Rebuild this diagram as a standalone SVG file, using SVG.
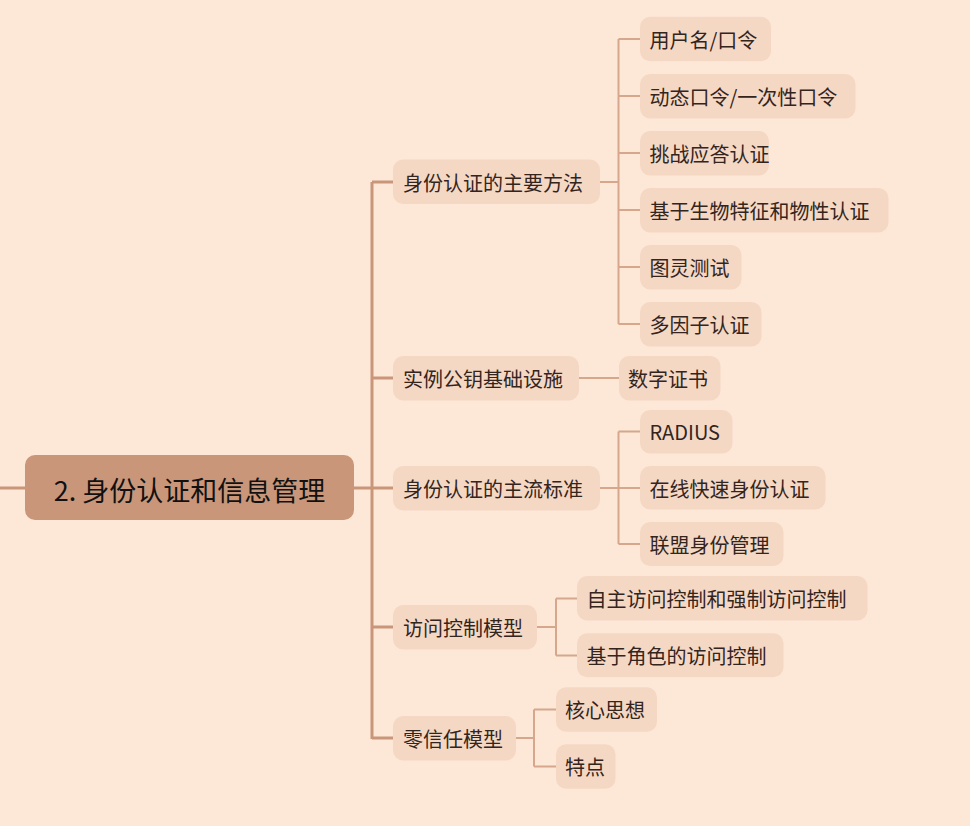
<svg xmlns="http://www.w3.org/2000/svg" width="970" height="826" viewBox="0 0 970 826">
<style>
.bg{fill:#FDE8D8}
.root{fill:#C9967A}
.n{fill:#F5D8C4}
.t{font-family:"Noto Sans CJK SC","Noto Sans",sans-serif;font-size:20px;fill:#33251d;dominant-baseline:central}
.rt{font-family:"Noto Sans CJK SC","Noto Sans",sans-serif;font-size:27px;fill:#111;dominant-baseline:central;text-anchor:middle}
.l1{fill:none;stroke:#C9967A;stroke-width:3}
.l2{fill:none;stroke:#D6A78D;stroke-width:2}
</style>
<rect class="bg" x="0" y="0" width="970" height="826"/>
<g id="connectors">
<path class="l1" d="M0,488H25M354,488H372M372,182V739M372,182H393M372,378H393M372,488H393M372,627H393M372,738H393"/>
<path class="l2" d="M600,182H618.5M618.5,39V324M618.5,39H640M618.5,96H640M618.5,153H640M618.5,210H640M618.5,267H640M618.5,324H640"/>
<path class="l2" d="M579,378H619"/>
<path class="l2" d="M600,488H618.5M618.5,431.5V544M618.5,431.5H640M618.5,488H640M618.5,544H640"/>
<path class="l2" d="M537,627H556M556,598.5V655.5M556,598.5H577M556,655.5H577"/>
<path class="l2" d="M516,738H534M534,709.5V766.5M534,709.5H556M534,766.5H556"/>
</g>
<g id="root"><rect class="root" x="25" y="455" width="329" height="65" rx="10"/><text class="rt" x="189.5" y="489">2. 身份认证和信息管理</text></g>
<g id="n1"><rect class="n" x="393" y="159.5" width="207" height="44.5" rx="10"/><text class="t" x="403" y="182">身份认证的主要方法</text></g>
<g id="n1a"><rect class="n" x="640" y="16.7" width="131" height="44.5" rx="10"/><text class="t" x="649.5" y="39">用户名/口令</text></g>
<g id="n1b"><rect class="n" x="640" y="74" width="215.5" height="44.5" rx="10"/><text class="t" x="649.5" y="96">动态口令/一次性口令</text></g>
<g id="n1c"><rect class="n" x="640" y="131" width="129" height="44.5" rx="10"/><text class="t" x="649.5" y="153">挑战应答认证</text></g>
<g id="n1d"><rect class="n" x="640" y="188" width="248.5" height="44.5" rx="10"/><text class="t" x="649.5" y="210">基于生物特征和物性认证</text></g>
<g id="n1e"><rect class="n" x="640" y="245" width="101.5" height="44.5" rx="10"/><text class="t" x="649.5" y="267">图灵测试</text></g>
<g id="n1f"><rect class="n" x="640" y="302" width="121.5" height="44.5" rx="10"/><text class="t" x="649.5" y="324">多因子认证</text></g>
<g id="n2"><rect class="n" x="393" y="356" width="186" height="44.5" rx="10"/><text class="t" x="403" y="378">实例公钥基础设施</text></g>
<g id="n2a"><rect class="n" x="619" y="356" width="101.5" height="44.5" rx="10"/><text class="t" x="628" y="378">数字证书</text></g>
<g id="n3"><rect class="n" x="393" y="466" width="207" height="44.5" rx="10"/><text class="t" x="403" y="488">身份认证的主流标准</text></g>
<g id="n3a"><rect class="n" x="640" y="410" width="92.5" height="43.5" rx="10"/><text class="t" x="649.5" y="431.5">RADIUS</text></g>
<g id="n3b"><rect class="n" x="640" y="466" width="185.5" height="43.5" rx="10"/><text class="t" x="649.5" y="488">在线快速身份认证</text></g>
<g id="n3c"><rect class="n" x="640" y="522" width="143.5" height="44" rx="10"/><text class="t" x="649.5" y="544">联盟身份管理</text></g>
<g id="n4"><rect class="n" x="393" y="605" width="144" height="44.5" rx="10"/><text class="t" x="403" y="627">访问控制模型</text></g>
<g id="n4a"><rect class="n" x="577" y="576" width="290.5" height="44.5" rx="10"/><text class="t" x="586.5" y="598.5">自主访问控制和强制访问控制</text></g>
<g id="n4b"><rect class="n" x="577" y="633.3" width="206.5" height="44" rx="10"/><text class="t" x="586.5" y="655.5">基于角色的访问控制</text></g>
<g id="n5"><rect class="n" x="393" y="716" width="123" height="44.5" rx="10"/><text class="t" x="403" y="738">零信任模型</text></g>
<g id="n5a"><rect class="n" x="556" y="687.3" width="101" height="44.5" rx="10"/><text class="t" x="565" y="709.5">核心思想</text></g>
<g id="n5b"><rect class="n" x="556" y="744.3" width="59.5" height="44.5" rx="10"/><text class="t" x="565" y="766.5">特点</text></g>
</svg>
